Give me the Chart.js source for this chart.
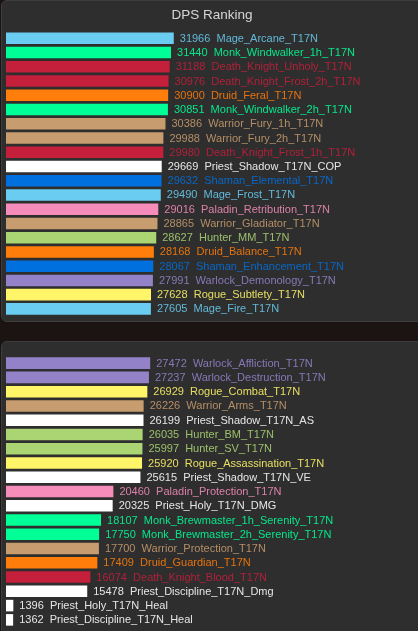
<!DOCTYPE html>
<html>
<head>
<meta charset="utf-8">
<script src="https://cdn.jsdelivr.net/npm/chart.js@4.4.1/dist/chart.umd.min.js"></script>
<style>
  html, body { margin: 0; padding: 0; }
  body { width: 418px; height: 631px; background: #1b1412; overflow: hidden; position: relative; font-family: "Liberation Sans", Arial, sans-serif; }
  .panel { position: absolute; left: 1px; width: 440px; background: #2e2e2e; border: 1px solid #3d3d3d; border-radius: 6px; box-sizing: border-box; }
  #topPanel { top: 0; height: 322px; }
  #bottomPanel { top: 341px; height: 310px; }
  .wrap { position: absolute; left: 0; width: 418px; }
  #topWrap { top: 0; height: 321px; }
  #bottomWrap { top: 341px; height: 290px; }
</style>
</head>
<body>
<div class="panel" id="topPanel"></div>
<div class="panel" id="bottomPanel"></div>
<div class="wrap" id="topWrap"><canvas id="topChart"></canvas></div>
<div class="wrap" id="bottomWrap"><canvas id="bottomChart"></canvas></div>
<script>
// class colours
const classColors = {
    Mage: '#69ccf0', Monk: '#00ff96', Death: '#c41f3b', Druid: '#ff7d0a',
    Warrior: '#c79c6e', Priest: '#ffffff', Shaman: '#0070de', Paladin: '#f58cba',
    Hunter: '#abd473', Warlock: '#9482c9', Rogue: '#fff569'
};

// top panel
const topSpecs = [
    'Mage_Arcane_T17N', 'Monk_Windwalker_1h_T17N', 'Death_Knight_Unholy_T17N', 'Death_Knight_Frost_2h_T17N',
    'Druid_Feral_T17N', 'Monk_Windwalker_2h_T17N', 'Warrior_Fury_1h_T17N', 'Warrior_Fury_2h_T17N',
    'Death_Knight_Frost_1h_T17N', 'Priest_Shadow_T17N_COP', 'Shaman_Elemental_T17N', 'Mage_Frost_T17N',
    'Paladin_Retribution_T17N', 'Warrior_Gladiator_T17N', 'Hunter_MM_T17N', 'Druid_Balance_T17N',
    'Shaman_Enhancement_T17N', 'Warlock_Demonology_T17N', 'Rogue_Subtlety_T17N', 'Mage_Fire_T17N'
];
const topDps = [31966, 31440, 31188, 30976, 30900, 30851, 30386, 29988, 29980, 29669,
    29632, 29490, 29016, 28865, 28627, 28168, 28067, 27991, 27628, 27605];

// bottom panel
const bottomSpecs = [
    'Warlock_Affliction_T17N', 'Warlock_Destruction_T17N', 'Rogue_Combat_T17N', 'Warrior_Arms_T17N',
    'Priest_Shadow_T17N_AS', 'Hunter_BM_T17N', 'Hunter_SV_T17N', 'Rogue_Assassination_T17N',
    'Priest_Shadow_T17N_VE', 'Paladin_Protection_T17N', 'Priest_Holy_T17N_DMG',
    'Monk_Brewmaster_1h_Serenity_T17N', 'Monk_Brewmaster_2h_Serenity_T17N', 'Warrior_Protection_T17N',
    'Druid_Guardian_T17N', 'Death_Knight_Blood_T17N', 'Priest_Discipline_T17N_Dmg',
    'Priest_Holy_T17N_Heal', 'Priest_Discipline_T17N_Heal'
];
const bottomDps = [27472, 27237, 26929, 26226, 26199, 26035, 25997, 25920, 25615, 20460,
    20325, 18107, 17750, 17700, 17409, 16074, 15478, 1396, 1362];

const xMax = 78500;

function colorOf(spec) {
    return classColors[spec.split('_')[0]];
}

// draws "value  name" right after each bar
const barLabels = {
    id: 'barLabels',
    afterDatasetsDraw(chart) {
        const ctx = chart.ctx;
        const ds = chart.data.datasets[0];
        const meta = chart.getDatasetMeta(0);
        ctx.save();
        ctx.font = '11px "Liberation Sans", Arial, sans-serif';
        ctx.textBaseline = 'middle';
        ctx.textAlign = 'left';
        ctx.globalAlpha = 0.88;
        meta.data.forEach((bar, i) => {
            ctx.fillStyle = ds.backgroundColor[i];
            ctx.fillText(ds.data[i] + '  ' + chart.data.labels[i], bar.x + 6, bar.y + 0.5);
        });
        ctx.restore();
    }
};

function makeChart(id, specs, values, withTitle, padTop, padBottom) {
    const ctx = document.getElementById(id).getContext('2d');
    return new Chart(ctx, {
        type: 'bar',
        data: {
            labels: specs,
            datasets: [{
                data: values,
                backgroundColor: specs.map(colorOf),
                borderWidth: 0,
                barPercentage: 0.81,
                categoryPercentage: 1
            }]
        },
        options: {
            indexAxis: 'y',
            responsive: true,
            maintainAspectRatio: false,
            animation: false,
            layout: { padding: { left: 6, right: 0, top: padTop, bottom: padBottom } },
            scales: {
                x: { display: false, min: 0, max: xMax },
                y: { display: false }
            },
            plugins: {
                legend: { display: false },
                tooltip: { enabled: false },
                title: {
                    display: withTitle,
                    text: 'DPS Ranking',
                    color: '#d6d6d6',
                    font: { size: 13.5, family: '"Liberation Sans", Arial, sans-serif', weight: 'normal' },
                    padding: { top: 7, bottom: 8 }
                }
            }
        },
        plugins: [barLabels]
    });
}

makeChart('topChart', topSpecs, topDps, true, 0, 5);
makeChart('bottomChart', bottomSpecs, bottomDps, false, 15, 4);
</script>
</body>
</html>
